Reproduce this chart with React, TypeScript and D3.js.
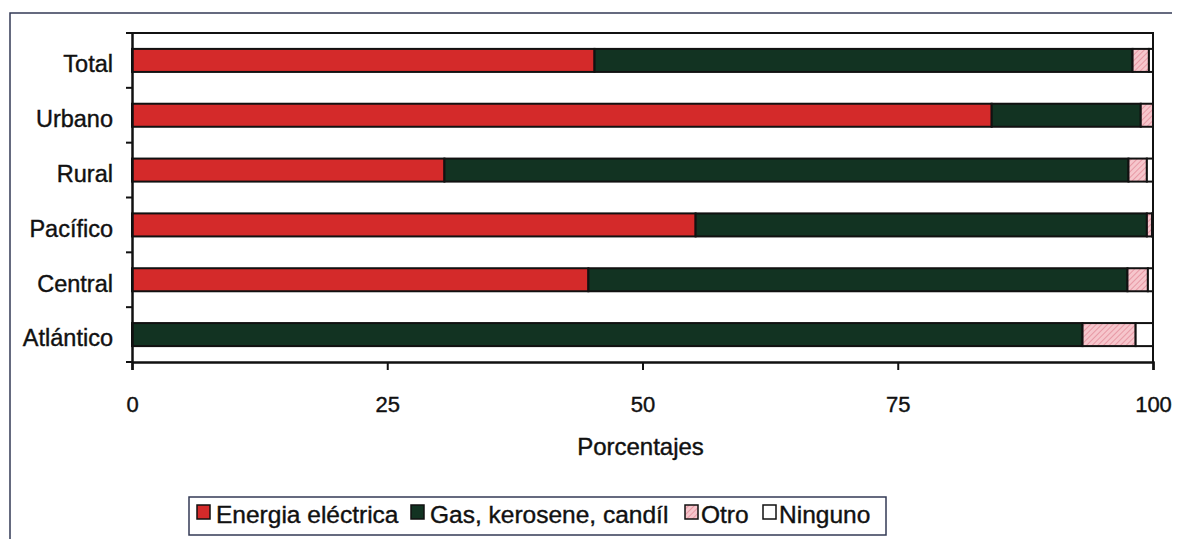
import * as d3 from "d3";
import { useEffect, useRef } from "react";

const categories = ["Total", "Urbano", "Rural", "Pacífico", "Central", "Atlántico"];
const seriesNames = ["Energia eléctrica", "Gas, kerosene, candíl", "Otro", "Ninguno"];
const electrica = [45.3, 84.2, 30.6, 55.2, 44.7, 0];
const gas = [52.7, 14.6, 67.0, 44.2, 52.8, 93.1];
const otro = [1.6, 1.2, 1.8, 0.5, 2.0, 5.2];
const ninguno = [0.4, 0, 0.6, 0.1, 0.5, 1.7];
const xTicks = [0, 25, 50, 75, 100];

const colors = ["#d42a2a", "#123322", "url(#hatch)", "#ffffff"];

const App = () => {
  const svgRef = useRef(null);

  useEffect(() => {
    const svg = d3.select(svgRef.current);
    svg.selectAll("*").remove();
    const width = 1178;
    const height = 539;
    const margin = { top: 33, right: 25, bottom: 177, left: 132 };
    const font = "'Liberation Sans', Arial, sans-serif";

    const defs = svg.append("defs");
    const pat = defs
      .append("pattern")
      .attr("id", "hatch")
      .attr("patternUnits", "userSpaceOnUse")
      .attr("width", 4)
      .attr("height", 4)
      .attr("patternTransform", "rotate(45)");
    pat.append("rect").attr("width", 4).attr("height", 4).attr("fill", "#f6c6cc");
    pat.append("line").attr("x1", 0).attr("y1", 0).attr("x2", 0).attr("y2", 4)
      .attr("stroke", "#e28a98").attr("stroke-width", 1.5);

    // outer frame (top + left)
    svg.append("path")
      .attr("d", `M10,${height} L10,13 L${width - 6},13`)
      .attr("fill", "none").attr("stroke", "#333a55").attr("stroke-width", 1.5);

    const x = d3.scaleLinear().domain([0, 100]).range([margin.left, width - margin.right]);
    const y = d3.scaleBand().domain(categories).range([margin.top, height - margin.bottom]).paddingInner(0.58).paddingOuter(0.29);

    const rows = categories.map((c, i) => ({ cat: c, values: [electrica[i], gas[i], otro[i], ninguno[i]] }));
    const stackData = rows.map((r) => {
      let acc = 0;
      return r.values.map((v, k) => {
        const seg = { cat: r.cat, k, x0: acc, x1: acc + v };
        acc += v;
        return seg;
      });
    }).flat().filter((s) => s.x1 - s.x0 > 0);

    // plot frame top/right
    svg.append("path")
      .attr("d", `M${x(0)},${margin.top} L${x(100)},${margin.top} L${x(100)},${height - margin.bottom}`)
      .attr("fill", "none").attr("stroke", "#111").attr("stroke-width", 2);

    svg.append("g")
      .selectAll("rect")
      .data(stackData)
      .join("rect")
      .attr("x", (d) => x(d.x0))
      .attr("y", (d) => y(d.cat))
      .attr("width", (d) => x(d.x1) - x(d.x0))
      .attr("height", y.bandwidth())
      .attr("fill", (d) => colors[d.k])
      .attr("stroke", "#111")
      .attr("stroke-width", 2);

    const styleText = (sel, size) =>
      sel.attr("font-family", font).attr("font-size", size).attr("fill", "#111")
        .attr("stroke", "#111").attr("stroke-width", 0.4);

    // x axis
    const xAxis = svg.append("g")
      .attr("transform", `translate(0, ${height - margin.bottom})`)
      .call(d3.axisBottom(x).tickValues(xTicks).tickSize(8).tickPadding(26));
    xAxis.select(".domain").attr("stroke", "#111").attr("stroke-width", 2.5);
    xAxis.selectAll(".tick line").attr("stroke", "#111").attr("stroke-width", 2);
    styleText(xAxis.selectAll("text"), 22);

    // y axis
    const yAxis = svg.append("g")
      .attr("transform", `translate(${margin.left}, 0)`)
      .call(d3.axisLeft(y).tickSize(0).tickPadding(19));
    yAxis.select(".domain").attr("stroke", "#111").attr("stroke-width", 2.5);
    styleText(yAxis.selectAll("text"), 23.5).attr("dy", "0.5em");
    // category boundary ticks
    const step = y.step();
    svg.append("g")
      .selectAll("line")
      .data(d3.range(categories.length + 1))
      .join("line")
      .attr("x1", margin.left - 6)
      .attr("x2", margin.left)
      .attr("y1", (i) => margin.top + i * step)
      .attr("y2", (i) => margin.top + i * step)
      .attr("stroke", "#111").attr("stroke-width", 2);

    styleText(svg.append("text"), 24)
      .attr("x", (x(0) + x(100)) / 2 - 2)
      .attr("y", 455)
      .attr("text-anchor", "middle")
      .text("Porcentajes");

    // legend
    const legend = svg.append("g");
    legend.append("rect")
      .attr("x", 189).attr("y", 497).attr("width", 697).attr("height", 38)
      .attr("fill", "#fff").attr("stroke", "#333a55").attr("stroke-width", 1.5);
    const legendX = [197, 411, 685, 763];
    seriesNames.forEach((name, k) => {
      legend.append("rect")
        .attr("x", legendX[k]).attr("y", 505).attr("width", 13).attr("height", 14)
        .attr("fill", colors[k]).attr("stroke", "#111").attr("stroke-width", 1.5);
      styleText(legend.append("text"), 24.5)
        .attr("x", legendX[k] + (k < 2 ? 19 : 16)).attr("y", 523)
        .text(name);
    });
  }, []);

  return (
    <svg
      ref={svgRef}
      width={1178}
      height={539}
      style={{ position: "absolute", left: 0, top: 0, background: "#fff" }}
    />
  );
};

export default App;
